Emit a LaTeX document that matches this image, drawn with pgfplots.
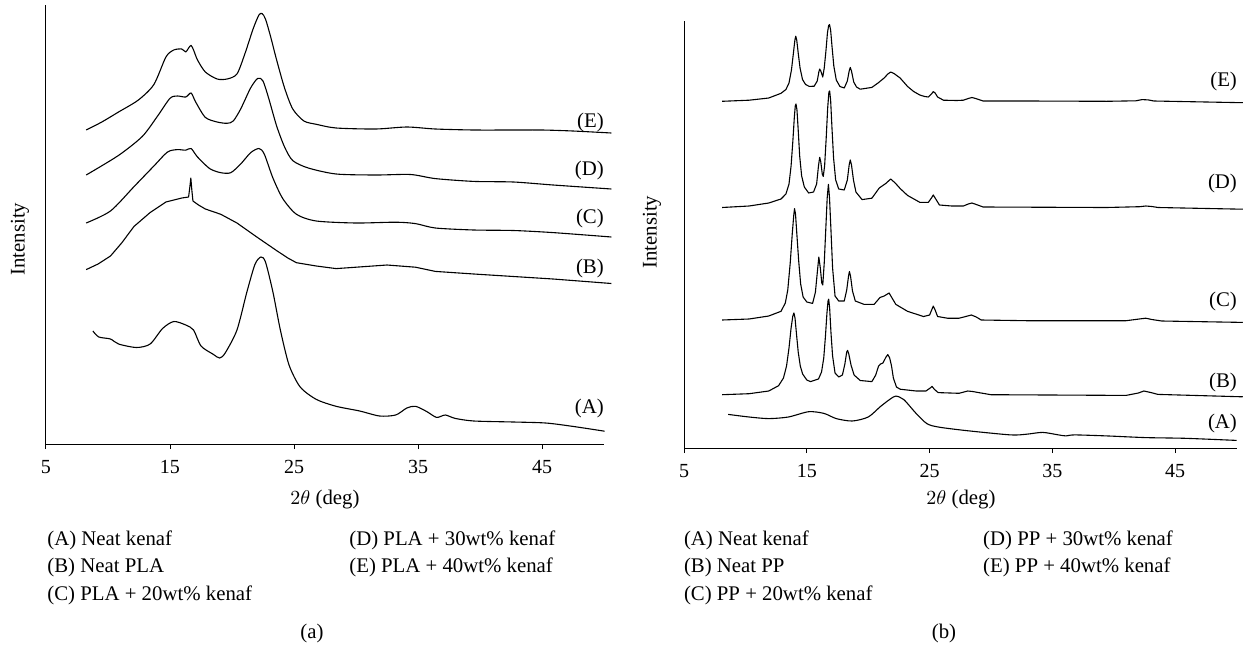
\documentclass[border=0pt]{standalone}
\usepackage{fontspec}
\setmainfont{Liberation Serif}
\usepackage{pgfplots}
\pgfplotsset{compat=1.18}
\begin{document}
\begin{tikzpicture}[x=1pt,y=1pt]
\path[use as bounding box] (0pt,0pt) rectangle (626.5pt,322.5pt);
\pgfplotsset{xrd/.style={scale only axis, anchor=south west,
  axis x line=bottom, axis y line=left,
  axis line style={-, line width=0.5pt, black},
  xmin=5, xmax=50, xtick={5,15,25,35,45}, ytick=\empty,
  tick align=outside, major tick length=2.5pt,
  tick style={line width=0.5pt, black},
  clip=false,
  /pgf/number format/assume math mode=true,
  ticklabel style={font=\fontsize{10}{12}\selectfont},
  xticklabel style={yshift=-2pt}},
  curve/.style={black, line width=0.55pt, mark=none, line join=round},
  scurve/.style={curve, smooth, tension=0.45}}
\def\lf{\fontsize{10.4}{12}\selectfont}
% ---------------- (a) PLA ----------------
\begin{axis}[xrd, at={(23pt,100.5pt)}, width=279pt, height=219.5pt, ymin=-2, ymax=437]
% (E)
\addplot[scurve] coordinates {(8.24,312)(9.5,320)(10.85,330)(12.45,342)(13.7,357.5)(14.67,385)(15.3,392)(15.95,393)(16.27,390)(16.5,394)(16.7,396.6)(16.9,392)(17.22,382)(17.85,370)(18.8,363)(19.6,363)(20.4,368)(21.05,388.6)(21.7,413)(22.17,427)(22.43,428.4)(22.7,423)(23.1,406)(23.6,382)(24.24,354)(24.9,333)(25.8,321)(26.8,317.7)(28.4,314)(31.6,313)(34.1,315)(36.4,313)(39.5,312)(42.7,312)(45,312)(47.5,311)(50.6,309)};
% (D)
\addplot[scurve] coordinates {(8.24,267)(10.85,286.6)(12.77,305.6)(14.0,326)(15.0,343.7)(15.6,346)(16.27,345)(16.7,349)(17.07,340)(17.85,324.6)(18.8,320)(19.6,318.7)(20.1,321)(20.7,333)(21.5,354)(22.08,363.7)(22.5,361)(22.96,343.7)(23.6,316)(24.24,295)(24.9,281.4)(26.15,274)(28.4,268)(31.6,267)(34.4,267.5)(36.4,263.4)(39.5,260.6)(42.7,260)(45.9,257)(50.6,253)};
% (C)
\addplot[scurve] coordinates {(8.24,219)(10.2,231)(12.1,255.4)(13.7,276)(14.8,290)(15.6,292.4)(16.27,291.8)(16.7,293.5)(17.22,285)(18.2,273.4)(19.1,269.3)(19.9,269.3)(20.7,278)(21.5,289.3)(22.17,293.5)(22.6,288)(23.3,264)(24.1,243.3)(25.2,227.7)(26.8,221)(30.0,219)(33.2,219.8)(34.8,218.4)(36.4,214)(39.5,212)(42.7,211.5)(45.9,209.4)(50.6,205)};
% (B)
\addplot[curve] coordinates {(8.24,172.4)(9.2,178)(10.2,186)(11.1,199)(12.1,215.6)(13.4,229.5)(14.67,240)(15.95,244)(16.5,245)(16.6,255)(16.68,264)(16.76,252)(16.85,241)(17.3,237)(17.85,233)(19.1,227.7)(20.4,219)(22.0,205)(23.6,191.4)(24.5,184)(25.2,179.3)(26.8,176)(28.4,173.4)(30.0,174.8)(32.5,177)(34.8,174.8)(36.4,170.6)(39.5,168)(42.7,165.5)(45.9,163)(50.6,158.5)};
% (A)
\addplot[scurve] coordinates {(8.78,111)(9.26,105)(10.2,103)(10.85,98)(12.3,94.5)(13.4,98)(14.4,113.5)(15.3,120.5)(16.27,117)(16.9,112)(17.5,96)(18.5,87.6)(19.0,84)(19.45,89)(20.4,112)(21.2,150)(21.85,177.6)(22.33,185)(22.7,180)(23.3,150)(23.9,112)(24.6,77)(25.5,55)(26.8,42.6)(28.4,35.7)(30.3,31)(31.9,26)(33.2,27)(34.1,34)(34.8,35.7)(35.7,30.5)(36.5,24.6)(37.2,27)(38.0,23.6)(39.5,21)(42.7,20)(45.3,19)(47.5,15.6)(50.05,10.8)};
\node[anchor=east, font=\lf] at (axis cs:50.55,319.4) {(E)};
\node[anchor=east, font=\lf] at (axis cs:50.55,272) {(D)};
\node[anchor=east, font=\lf] at (axis cs:50.55,224) {(C)};
\node[anchor=east, font=\lf] at (axis cs:50.55,174) {(B)};
\node[anchor=east, font=\lf] at (axis cs:50.55,34) {(A)};
\end{axis}
% ---------------- (b) PP ----------------
\begin{axis}[xrd, at={(342pt,98.5pt)}, width=276.3pt, height=213.5pt, ymin=0, ymax=427]
% (E)
\addplot[curve] coordinates {(8.1,346.7)(10.3,347.8)(11.9,350)(12.9,354.7)(13.3,358.5)(13.55,365)(13.75,378)(13.92,396)(14.03,408)(14.1,411.8)(14.18,408)(14.3,395)(14.45,380)(14.65,368.5)(14.9,363.5)(15.2,361.6)(15.6,361.8)(15.85,367)(15.98,376)(16.05,379)(16.14,377)(16.3,371)(16.42,380)(16.55,396)(16.68,415)(16.78,422.5)(16.85,423.5)(16.94,418)(17.05,402)(17.2,382)(17.4,368)(17.7,361.5)(18.05,360)(18.3,367)(18.45,377)(18.54,380.6)(18.64,377)(18.82,366)(19.05,361)(19.35,358.8)(20.3,360.6)(20.8,365)(21.3,370)(21.6,374)(21.83,376)(22.1,374.5)(22.6,370)(23.2,361.6)(23.7,356.5)(24.2,353)(24.6,351.5)(24.9,351)(25.15,354)(25.3,356.4)(25.45,355)(25.65,351)(26.13,347.8)(27.2,347.5)(27.75,347.8)(28.15,349.5)(28.45,350.5)(28.8,349.3)(29.36,347)(32.9,347)(39.4,346.7)(41.8,347.2)(42.3,348.4)(42.8,348.1)(43.26,347)(50.5,345.3)};
% (D)
\addplot[curve] coordinates {(8.1,240.5)(10.3,242)(11.9,245)(12.9,249)(13.3,254)(13.55,264)(13.72,282)(13.87,308)(13.98,330)(14.06,342)(14.12,344)(14.2,338)(14.3,318)(14.42,292)(14.58,272)(14.8,261)(15.15,255)(15.55,256)(15.8,264)(15.95,282)(16.05,290.7)(16.14,286)(16.26,274)(16.34,271.6)(16.45,282)(16.58,310)(16.7,340)(16.8,356)(16.86,357)(16.94,348)(17.05,320)(17.18,290)(17.35,268)(17.6,259)(18.05,258)(18.3,268)(18.45,283)(18.54,288)(18.64,283)(18.8,268)(19.0,256)(19.5,248.4)(20.3,249.8)(20.9,260)(21.45,264.7)(21.83,269)(22.2,265)(22.6,259.5)(23.2,252.6)(24.2,245.7)(24.9,245.7)(25.15,250)(25.3,253)(25.5,249)(25.8,243)(26.8,242)(27.75,242)(28.15,244)(28.45,245)(28.8,243.5)(29.36,241)(39.4,240.5)(42.1,241.3)(42.6,242)(43.1,241.5)(43.6,240.5)(50.5,238.8)};
% (C)
\addplot[curve] coordinates {(8.1,128)(10.3,129)(11.9,132)(12.9,136.7)(13.25,145)(13.45,158)(13.65,185)(13.82,215)(13.94,233)(14.0,239.4)(14.08,234)(14.2,212)(14.34,187)(14.5,164)(14.7,151)(15.0,146)(15.47,144.6)(15.7,155.7)(15.85,175)(15.98,191)(16.1,180)(16.22,165)(16.3,163)(16.42,185)(16.55,220)(16.66,250)(16.76,263.7)(16.85,250)(16.96,220)(17.1,180)(17.3,152)(17.6,147)(18.05,147)(18.25,158)(18.4,172)(18.47,176.5)(18.56,172)(18.72,157)(18.95,147)(19.67,143.6)(20.48,143.6)(20.96,150.5)(21.3,152)(21.7,155)(22.25,143.6)(23.2,136.7)(24.5,131.5)(25.0,133)(25.2,139)(25.3,141.9)(25.45,138)(25.65,131.5)(26.45,129.8)(27.4,129.8)(28.1,132)(28.4,133)(28.8,131)(29.2,128)(32.9,127.3)(41.0,127.3)(42.2,129.2)(42.6,129.8)(43.1,128.5)(43.9,127)(50.5,125.6)};
% (B)
\addplot[curve] coordinates {(8.1,53.3)(10.3,54.3)(11.9,57)(12.7,62.3)(13.1,70)(13.35,82)(13.55,100)(13.72,120)(13.86,132)(13.95,135)(14.04,130)(14.16,114)(14.3,96)(14.47,82)(14.66,74)(15.0,68)(15.3,66.4)(15.95,69)(16.2,76)(16.38,90)(16.52,112)(16.64,135)(16.73,147)(16.78,148.8)(16.86,140)(16.97,115)(17.1,92)(17.3,75)(17.6,71)(17.9,73)(18.1,84)(18.25,96)(18.32,97.6)(18.42,94)(18.6,83)(18.85,73)(19.35,67.5)(20.3,66.4)(20.6,72.7)(20.85,82)(21.0,84)(21.2,85)(21.45,91)(21.6,93.4)(21.75,90)(21.9,82)(22.05,70)(22.3,61)(22.6,58.8)(23.9,57)(24.7,57)(25.05,60)(25.2,61.6)(25.4,58.5)(25.7,55.4)(27.4,54.7)(28.1,57)(28.5,56.5)(29.0,55.4)(30.0,53.3)(41.0,52.6)(42.0,55)(42.45,57)(43.0,55.5)(43.6,53.6)(50.5,51.2)};
% (A)
\addplot[scurve] coordinates {(8.6,33.6)(10.3,31)(11.9,29.4)(13.5,31)(15.15,36.3)(16.4,34.6)(17.4,29.4)(18.7,27)(20.0,31)(21.0,41.5)(21.8,49)(22.25,51.9)(22.9,48.4)(23.9,34.6)(24.8,24.2)(25.8,20.8)(28.07,17.3)(31.6,13.1)(32.9,13.8)(34.2,15.6)(35.5,13.1)(36.1,12.1)(36.8,13.1)(39.4,12.1)(42.6,10.4)(45.8,9.7)(50.0,7.6)};
\node[anchor=east, font=\lf] at (axis cs:50.6,366.8) {(E)};
\node[anchor=east, font=\lf] at (axis cs:50.6,264.7) {(D)};
\node[anchor=east, font=\lf] at (axis cs:50.6,147) {(C)};
\node[anchor=east, font=\lf] at (axis cs:50.6,65.7) {(B)};
\node[anchor=east, font=\lf] at (axis cs:50.6,24.2) {(A)};
\end{axis}
% ---------------- texts ----------------
\node[rotate=90, font=\lf] at (10pt,203pt) {Intensity};
\node[rotate=90, font=\lf] at (326pt,206.5pt) {Intensity};
\node[font=\lf] at (162.5pt,72.5pt) {$2\theta$ (deg)};
\node[font=\lf] at (480.5pt,72.5pt) {$2\theta$ (deg)};
\node[anchor=west, font=\lf, inner sep=0pt] at (23.5pt,52.5pt) {(A) Neat kenaf};
\node[anchor=west, font=\lf, inner sep=0pt] at (23.5pt,39pt) {(B) Neat PLA};
\node[anchor=west, font=\lf, inner sep=0pt] at (23.5pt,25pt) {(C) PLA + 20wt\% kenaf};
\node[anchor=west, font=\lf, inner sep=0pt] at (174.5pt,52.5pt) {(D) PLA + 30wt\% kenaf};
\node[anchor=west, font=\lf, inner sep=0pt] at (174.5pt,39pt) {(E) PLA + 40wt\% kenaf};
\node[anchor=west, font=\lf, inner sep=0pt] at (341.8pt,52.5pt) {(A) Neat kenaf};
\node[anchor=west, font=\lf, inner sep=0pt] at (341.8pt,39pt) {(B) Neat PP};
\node[anchor=west, font=\lf, inner sep=0pt] at (341.8pt,25pt) {(C) PP + 20wt\% kenaf};
\node[anchor=west, font=\lf, inner sep=0pt] at (491.4pt,52.5pt) {(D) PP + 30wt\% kenaf};
\node[anchor=west, font=\lf, inner sep=0pt] at (491.4pt,39pt) {(E) PP + 40wt\% kenaf};
\node[font=\lf] at (156pt,6pt) {(a)};
\node[font=\lf] at (472pt,6pt) {(b)};
\end{tikzpicture}
\end{document}
